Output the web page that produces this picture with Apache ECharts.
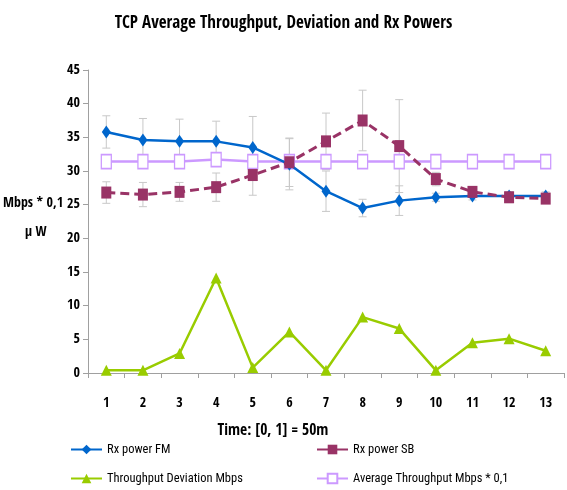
<!DOCTYPE html>
<html><head><meta charset="utf-8">
<script src="https://cdn.jsdelivr.net/npm/echarts@6/dist/echarts.min.js"></script>
<style>html,body{margin:0;padding:0;background:#fff}#c{width:567px;height:490px}</style>
</head><body><div id="c"></div>
<script>
const categories = ['1','2','3','4','5','6','7','8','9','10','11','12','13'];
const rxFM = [35.8, 34.6, 34.4, 34.4, 33.5, 31.0, 27.0, 24.5, 25.6, 26.1, 26.3, 26.3, 26.3];
const rxFMErr = [2.4, 3.2, 3.3, 3.0, 4.6, 3.8, 3.0, 1.3, 2.2, 0.6, 0.6, 0.5, 0.6];
const rxSB = [26.8, 26.5, 26.9, 27.6, 29.4, 31.3, 34.4, 37.5, 33.7, 28.8, 26.9, 26.1, 25.9];
const rxSBErr = [1.6, 1.8, 1.4, 2.1, 3.0, 3.6, 4.2, 4.5, 6.9, 1.0, 0.8, 0.8, 0.7];
const deviation = [0.4, 0.4, 2.9, 14.1, 0.8, 6.1, 0.4, 8.3, 6.6, 0.4, 4.5, 5.1, 3.3];
const avgThroughput = [31.4, 31.4, 31.4, 31.7, 31.4, 31.4, 31.4, 31.4, 31.4, 31.4, 31.4, 31.4, 31.4];
const yTicks = [0, 5, 10, 15, 20, 25, 30, 35, 40, 45];

const FONT = '"Open Sans Condensed", "Roboto Condensed", sans-serif';
const FONT2 = '"Roboto Condensed", "Open Sans Condensed", sans-serif';

function errSeries(vals, errs) {
  return {
    type: 'custom',
    silent: true,
    z: 1,
    data: vals.map((v, i) => [i, v - errs[i], v + errs[i]]),
    renderItem: function (params, api) {
      const lo = api.coord([api.value(0), api.value(1)]);
      const hi = api.coord([api.value(0), api.value(2)]);
      const w = 4;
      const st = { stroke: '#c8c8c8', lineWidth: 1 };
      return {
        type: 'group',
        children: [
          { type: 'line', shape: { x1: lo[0], y1: lo[1], x2: hi[0], y2: hi[1] }, style: st },
          { type: 'line', shape: { x1: lo[0] - w, y1: lo[1], x2: lo[0] + w, y2: lo[1] }, style: st },
          { type: 'line', shape: { x1: hi[0] - w, y1: hi[1], x2: hi[0] + w, y2: hi[1] }, style: st }
        ]
      };
    }
  };
}

const legendText = { fontFamily: FONT2, fontSize: 12.5, fontWeight: 'normal', color: '#000' };
function lg(name, left, top) {
  return { data: [name], left: left, top: top, itemWidth: 31, itemHeight: 12, itemGap: 3,
    lineStyle: { type: 'solid' }, textStyle: legendText, selectedMode: false };
}

const chart = echarts.init(document.getElementById('c'), null, { renderer: 'canvas' });
chart.setOption({
  animation: false,
  backgroundColor: '#fff',
  title: {
    text: 'TCP Average Throughput, Deviation and Rx Powers',
    left: 'center', top: 10,
    textStyle: { fontFamily: FONT, fontSize: 17, fontWeight: 'bold', color: '#000' }
  },
  grid: { left: 88, right: 3, top: 70, bottom: 117 },
  legend: [
    lg('Rx power FM', 65, 438),
    lg('Rx power SB', 311, 438),
    lg('Throughput Deviation Mbps', 65, 467),
    lg('Average Throughput Mbps * 0,1', 311, 467)
  ],
  graphic: [
    { type: 'text', left: 3, top: 196, style: { text: 'Mbps * 0,1', font: 'bold 14px ' + FONT, fill: '#000' } },
    { type: 'text', left: 25, top: 225, style: { text: 'μ W', font: 'bold 14px ' + FONT, fill: '#000' } }
  ],
  xAxis: {
    type: 'category',
    data: categories,
    boundaryGap: true,
    name: 'Time: [0, 1] = 50m',
    nameLocation: 'middle',
    nameGap: 50,
    nameTextStyle: { fontFamily: FONT, fontSize: 15.5, fontWeight: 'bold', color: '#000', padding: [0, 106, 0, 0] },
    axisLine: { lineStyle: { color: '#a0a0a0', width: 1 } },
    axisTick: { show: true, length: 5, lineStyle: { color: '#a0a0a0' } },
    axisLabel: { margin: 23, fontFamily: FONT, fontSize: 14, fontWeight: 'bold', color: '#000' },
    splitLine: { show: false }
  },
  yAxis: {
    type: 'value', min: 0, max: 45, interval: 5,
    axisLine: { show: true, lineStyle: { color: '#a0a0a0', width: 1 } },
    axisTick: { show: true, length: 5, lineStyle: { color: '#a0a0a0' } },
    axisLabel: { margin: 8, fontFamily: FONT, fontSize: 14, fontWeight: 'bold', color: '#000',
      formatter: v => (yTicks.indexOf(v) >= 0 ? String(v) : '') },
    splitLine: { show: false }
  },
  series: [
    errSeries(rxFM, rxFMErr),
    errSeries(rxSB, rxSBErr),
    {
      name: 'Rx power FM', type: 'line', data: rxFM, z: 4,
      symbol: 'diamond', symbolSize: [9, 13],
      lineStyle: { color: '#0066cc', width: 2.5 },
      itemStyle: { color: '#0066cc' }
    },
    {
      name: 'Rx power SB', type: 'line', data: rxSB, z: 4,
      symbol: 'rect', symbolSize: [10, 12],
      lineStyle: { color: '#993366', width: 3, type: [9, 5] },
      itemStyle: { color: '#993366' }
    },
    {
      name: 'Throughput Deviation Mbps', type: 'line', data: deviation, z: 3,
      symbol: 'triangle', symbolSize: [11, 11],
      lineStyle: { color: '#99cc00', width: 2.5 },
      itemStyle: { color: '#99cc00' }
    },
    {
      name: 'Average Throughput Mbps * 0,1', type: 'line', data: avgThroughput, z: 3,
      symbol: 'rect', symbolSize: [10, 14],
      lineStyle: { color: '#cc99ff', width: 2.5 },
      itemStyle: { color: '#fff', borderColor: '#cc99ff', borderWidth: 1.5 }
    }
  ]
});
</script>
</body></html>
